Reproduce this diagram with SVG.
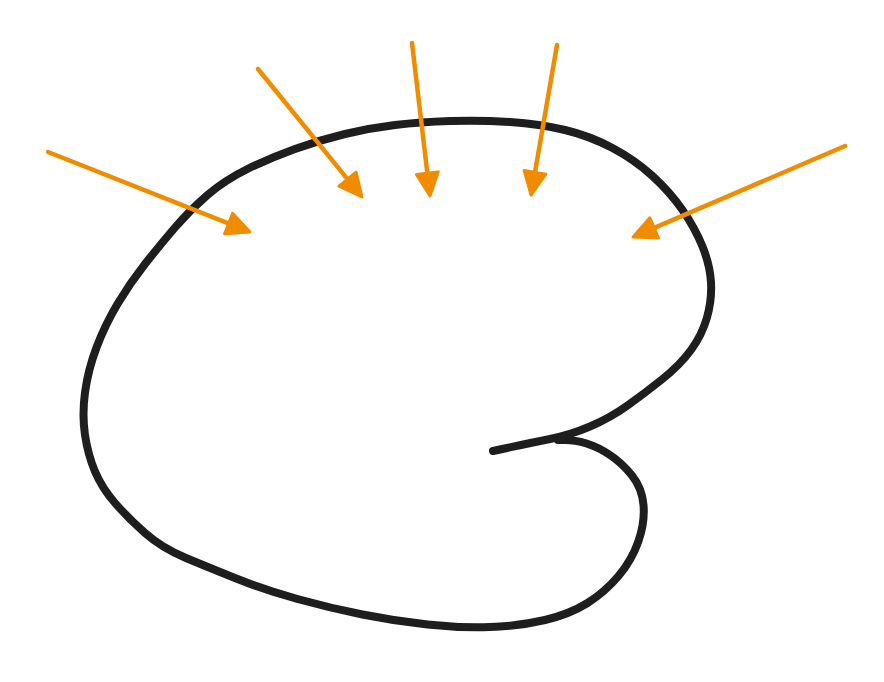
<svg xmlns="http://www.w3.org/2000/svg" width="884" height="682" viewBox="0 0 884 682">
  <style>
    .blob { fill: none; stroke: #1e1e1e; stroke-width: 8; stroke-linecap: round; stroke-linejoin: round; }
    .arrow { fill: none; stroke: #f08c00; stroke-width: 4.5; stroke-linecap: round; marker-end: url(#head); }
  </style>
  <defs>
    <marker id="head" markerUnits="userSpaceOnUse" markerWidth="30" markerHeight="28" viewBox="-3 -3 30 28" refX="10" refY="11" orient="auto">
      <path d="M0,0 L23,11 L0,22 Z" fill="#f08c00" stroke="#f08c00" stroke-width="3" stroke-linejoin="round"/>
    </marker>
  </defs>
  <rect width="884" height="682" fill="#ffffff"/>
  <g id="shape">
    <path class="blob" d="M493 451 Q530 443 550 439 Q570 435 590 426.5 Q610 418 627.5 405.5 Q645 393 662.5 379 Q680 365 691 350 Q702 335 707 317.5 Q712 300 711 282.5 Q710 265 702.5 246.5 Q695 228 682.5 210 Q670 192 652.5 176 Q635 160 612.5 148 Q590 136 565 130 Q540 124 510 122 Q480 120 450 121 Q420 122 395 125 Q370 128 345 134 Q320 140 295 149 Q270 158 247.5 169 Q225 180 207.5 195 Q190 210 175 227.5 Q160 245 145 264 Q130 283 117.5 304 Q105 325 96.5 347.5 Q88 370 85 392.5 Q82 415 85 435 Q88 455 95 471.5 Q102 488 115 503 Q128 518 145 533 Q162 548 186 558 Q210 568 237.5 579 Q265 590 297.5 599 Q330 608 362.5 614.5 Q395 621 427.5 624.5 Q460 628 490 627 Q520 626 545 620 Q570 614 587.5 603 Q605 592 618.5 576 Q632 560 638.5 541 Q645 522 643.5 505 Q642 488 632 475.5 Q622 463 610 455 Q598 447 586.5 443.5 Q575 440 565 440 L558 440"/>
  </g>
  <g id="connectors">
    <line class="arrow" x1="48" y1="152" x2="237.9" y2="227.2"/>
    <line class="arrow" x1="258" y1="69" x2="353.8" y2="186.9"/>
    <line class="arrow" x1="412" y1="43" x2="428.5" y2="183.1"/>
    <line class="arrow" x1="557" y1="45" x2="533.3" y2="182.2"/>
    <line class="arrow" x1="845" y1="146" x2="645" y2="231.9"/>
  </g>
</svg>
